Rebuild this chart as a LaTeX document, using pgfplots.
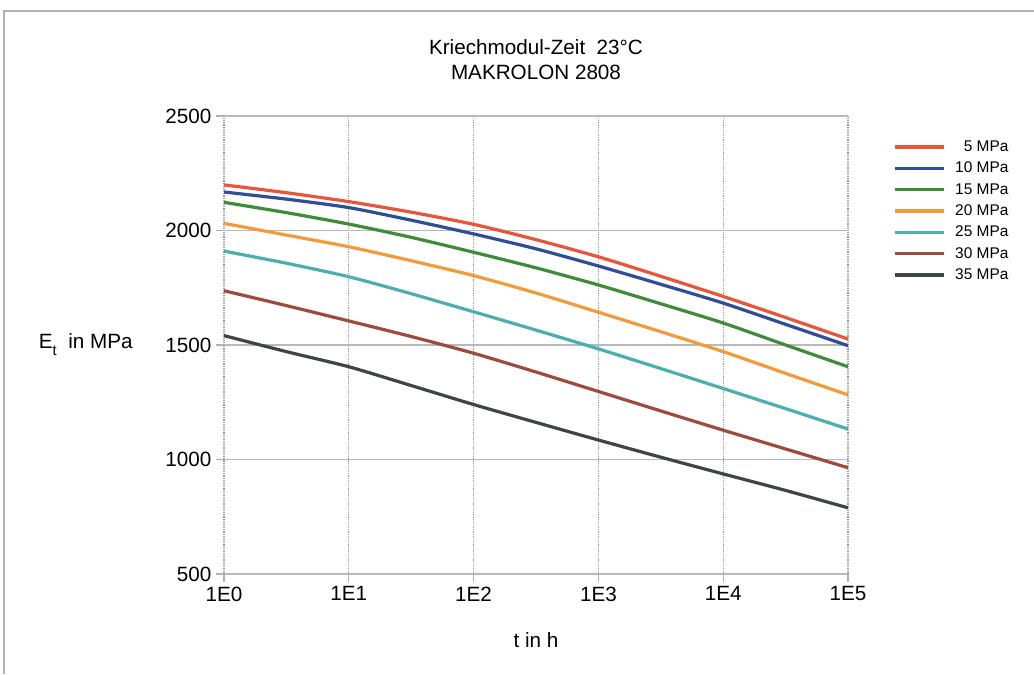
\documentclass[border=0pt]{standalone}
\usepackage{fontspec}
\setmainfont{Liberation Sans}
\usepackage{pgfplots}
\pgfplotsset{compat=1.18}

\definecolor{cA}{HTML}{E9553A}
\definecolor{cB}{HTML}{2E4E98}
\definecolor{cC}{HTML}{3C8C3A}
\definecolor{cD}{HTML}{F39B3A}
\definecolor{cE}{HTML}{4BAEB0}
\definecolor{cF}{HTML}{9E4A3D}
\definecolor{cG}{HTML}{3F4446}

% t in h, E_t in MPa for 5 ... 35 MPa
\pgfplotstableread{
t       s5   s10  s15  s20  s25  s30  s35
1       2199 2168 2123 2031 1910 1737 1541
3.1623  2165 2137 2078 1980 1857 1672 1471
10      2126 2100 2028 1929 1798 1605 1405
31.623  2080 2045 1970 1868 1724 1537 1323
100     2027 1985 1905 1803 1645 1464 1240
316.23  1960 1920 1837 1727 1565 1382 1162
1000    1885 1845 1762 1643 1483 1297 1085
3162.3  1800 1765 1680 1558 1397 1212 1010
10000   1712 1683 1596 1471 1310 1128 937
31623   1620 1590 1500 1376 1222 1046 865
100000  1526 1497 1405 1282 1133 964  789
}\kriech

\begin{document}
\begin{tikzpicture}
\useasboundingbox (0,0) rectangle (775.5pt,505.5pt);
\draw[gray!60, line width=1pt] (3pt,0) -- (3pt,497.25pt) -- (775.5pt,497.25pt);

\node[font=\fontsize{15.5}{18.75}\selectfont, align=center] at (402pt,460.9pt)
    {Kriechmodul-Zeit\ \ 23°C\\MAKROLON 2808};
\node[font=\fontsize{15.5}{17}\selectfont, anchor=west, inner sep=0pt] at (29pt,247pt)
    {E\raisebox{-0.35em}{\fontsize{11}{11}\selectfont t}\ \ in MPa};
\node[font=\fontsize{15.5}{17}\selectfont] at (402pt,25.5pt) {t in h};

\begin{axis}[
    at={(168pt,75pt)}, anchor=south west,
    scale only axis,
    width=468pt, height=343.5pt,
    xmode=log,
    xmin=1, xmax=100000,
    ymin=500, ymax=2500,
    xtick={1,10,100,1000,10000,100000},
    xticklabels={1E0,1E1,1E2,1E3,1E4,1E5},
    xminorticks=false,
    ytick={500,1000,1500,2000,2500},
    /pgf/number format/1000 sep={},
    /pgf/number format/assume math mode=true,
    ticklabel style={font=\fontsize{15.5}{17}\selectfont},
    axis line style={draw=none},
    grid=major,
    major x grid style={gray!80, densely dotted, line width=0.9pt},
    major y grid style={gray!55, line width=1pt},
    tick align=outside,
    xtick pos=bottom, ytick pos=left,
    major tick length=6pt,
    tick style={gray!60, line width=0.9pt},
    legend style={at={(1.072,0.951)}, anchor=north west, draw=none, fill=none,
        inner sep=0pt,
        font=\fontsize{11.6}{13}\selectfont,
        nodes={inner ysep=0pt, text height=9.5pt, text depth=3pt},
        row sep=3.5pt},
    legend cell align=right,
    legend image code/.code={%
        \draw[#1, line width=2.6pt] (0pt,0pt) -- (37pt,0pt);
        \path (42pt,0pt);},
    every axis plot/.append style={line width=2.4pt, smooth, tension=0.4},
]
\addplot[cA] table[x=t, y=s5] {\kriech};
\addlegendentry{5 MPa}
\addplot[cB] table[x=t, y=s10] {\kriech};
\addlegendentry{10 MPa}
\addplot[cC] table[x=t, y=s15] {\kriech};
\addlegendentry{15 MPa}
\addplot[cD] table[x=t, y=s20] {\kriech};
\addlegendentry{20 MPa}
\addplot[cE] table[x=t, y=s25] {\kriech};
\addlegendentry{25 MPa}
\addplot[cF] table[x=t, y=s30] {\kriech};
\addlegendentry{30 MPa}
\addplot[cG] table[x=t, y=s35] {\kriech};
\addlegendentry{35 MPa}
\end{axis}
\end{tikzpicture}
\end{document}
